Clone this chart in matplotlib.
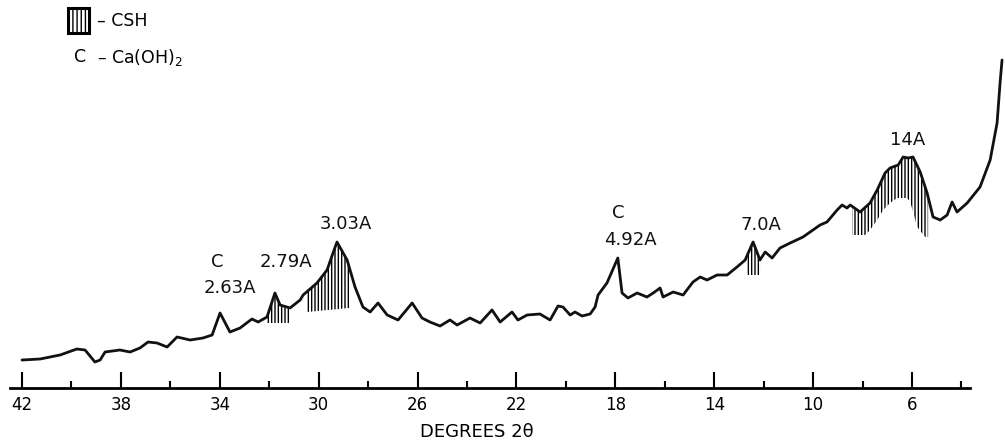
import numpy as np
import matplotlib.pyplot as plt
from matplotlib.patches import Rectangle

plt.rcParams['font.family'] = ['DejaVu Sans']
plt.rcParams['hatch.color'] = 'black'
plt.rcParams['hatch.linewidth'] = 1.0

# ------------------------
# Difratograma (leitura do gráfico): 2θ em graus, intensidade em unidades arbitrárias
# ------------------------
two_theta = [42.00, 41.27, 40.46, 39.78, 39.45, 39.05, 38.84, 38.64, 38.04, 37.63,
             37.23, 36.90, 36.54, 36.13, 35.73, 35.20, 34.68, 34.31, 33.99, 33.59,
             33.18, 32.70, 32.45, 32.09, 31.77, 31.56, 31.16, 30.75, 30.63, 30.07,
             29.66, 29.42, 29.26, 28.85, 28.53, 28.21, 27.92, 27.60, 27.23, 26.79,
             26.22, 25.82, 25.50, 25.09, 24.69, 24.40, 23.88, 23.47, 22.99, 22.66,
             22.18, 21.94, 21.57, 21.05, 20.64, 20.32, 20.12, 19.83, 19.63, 19.35,
             19.02, 18.82, 18.70, 18.34, 17.90, 17.73, 17.49, 17.12, 16.72, 16.47,
             16.19, 16.07, 15.66, 15.26, 14.86, 14.57, 14.29, 13.89, 13.48, 13.08,
             12.75, 12.43, 12.15, 11.94, 11.66, 11.34, 10.93, 10.41, 9.72, 9.44,
             9.03, 8.83, 8.63, 8.50, 8.10, 7.70, 7.41, 7.09, 6.89, 6.56,
             6.36, 6.16, 5.96, 5.67, 5.39, 5.15, 4.86, 4.58, 4.38, 4.18,
             3.77, 3.25, 2.84, 2.56, 2.44, 2.36]
intensity = [28, 29, 33, 39, 38, 26, 28, 36, 38, 36,
             40, 46, 45, 41, 51, 48, 50, 53, 75, 56,
             60, 69, 66, 71, 95, 83, 80, 88, 93, 105,
             118, 135, 146, 128, 101, 81, 76, 85, 73, 68,
             85, 70, 66, 62, 68, 63, 70, 65, 78, 66,
             76, 68, 73, 74, 68, 82, 81, 73, 76, 72,
             74, 81, 93, 105, 130, 95, 90, 95, 91, 95,
             100, 91, 96, 93, 106, 111, 108, 113, 113, 121,
             128, 146, 128, 136, 130, 140, 145, 151, 163, 166,
             178, 183, 180, 183, 176, 185, 198, 215, 220, 223,
             231, 230, 231, 216, 195, 171, 168, 173, 186, 176,
             185, 201, 228, 265, 305, 328]

# regiões de CSH (hachuradas): limites em 2θ e nível inferior das hachuras
csh_regions = [
    ([32.09, 31.20], [65, 65]),
    ([30.47, 28.77], [76, 80]),
    ([12.67, 12.11], [113, 113]),
    ([8.42, 7.90, 7.70, 7.41, 7.17, 6.89, 6.60, 6.20, 6.07, 5.79, 5.47, 5.35],
     [153, 153, 158, 168, 178, 185, 190, 190, 186, 161, 151, 151]),
]

# rótulos dos picos: (texto, 2θ, intensidade)
peak_labels = [
    ('C', 34.11, 126), ('2.63A', 33.59, 100),
    ('2.79A', 31.32, 126),
    ('3.03A', 28.89, 164),
    ('C', 17.89, 175), ('4.92A', 17.40, 148),
    ('7.0A', 12.11, 163),
    ('14A', 6.16, 248),
]

major_ticks = [42, 38, 34, 30, 26, 22, 18, 14, 10, 6]
minor_ticks = [40, 36, 32, 28, 24, 20, 16, 12, 8, 4]

# ------------------------
# Figura
# ------------------------
fig = plt.figure(figsize=(10.05, 4.44), dpi=100)
ax = fig.add_axes([0, 0, 1, 1])
ax.set_xlim(42.89, 2.24)
ax.set_ylim(-56, 388)

ax.plot(two_theta, intensity, color='#111111', lw=2.0, solid_joinstyle='round',
        solid_capstyle='round')

# hachuras CSH
tt_inc = np.array(two_theta[::-1])
ii_inc = np.array(intensity[::-1])
for xs, lows in csh_regions:
    xx = np.linspace(xs[0], xs[-1], 200)
    top = np.interp(xx, tt_inc, ii_inc)
    low = np.interp(xx, np.array(xs[::-1]), np.array(lows[::-1]))
    ax.fill_between(xx, low, top, facecolor='none', edgecolor='black',
                    linewidth=0, hatch='|||||')

for txt, x, y in peak_labels:
    ax.text(x, y, txt, ha='center', va='center', fontsize=13, color='#111111')

# eixo 2θ
for s in ['left', 'right', 'top']:
    ax.spines[s].set_visible(False)
ax.spines['bottom'].set_position(('data', 0))
ax.spines['bottom'].set_bounds(3.65, 42.49)
ax.spines['bottom'].set_linewidth(2)
ax.set_yticks([])
ax.set_xticks(major_ticks)
ax.set_xticks(minor_ticks, minor=True)
ax.set_xticklabels([str(t) for t in major_ticks])
ax.tick_params(axis='x', which='major', direction='in', length=11.5, width=1.5,
               pad=6, labelsize=12)
ax.tick_params(axis='x', which='minor', direction='in', length=5, width=1.5)

fig.text(477 / 1005, 1 - 432 / 444, 'DEGREES 2θ', ha='center', va='center',
         fontsize=13)

# legenda
fig.patches.append(Rectangle((68 / 1005, 1 - 33 / 444), 21 / 1005, 25 / 444,
                             transform=fig.transFigure, facecolor='none',
                             edgecolor='black', lw=2.2, hatch='||||'))
fig.text(97 / 1005, 1 - 21 / 444, '– CSH', ha='left', va='center', fontsize=12.5)
fig.text(80 / 1005, 1 - 57 / 444, 'C', ha='center', va='center', fontsize=12.5)
fig.text(97 / 1005, 1 - 57 / 444, '– Ca(OH)$_2$', ha='left', va='center',
         fontsize=12.5)

fig.savefig('out.png', dpi=100, facecolor='white')
